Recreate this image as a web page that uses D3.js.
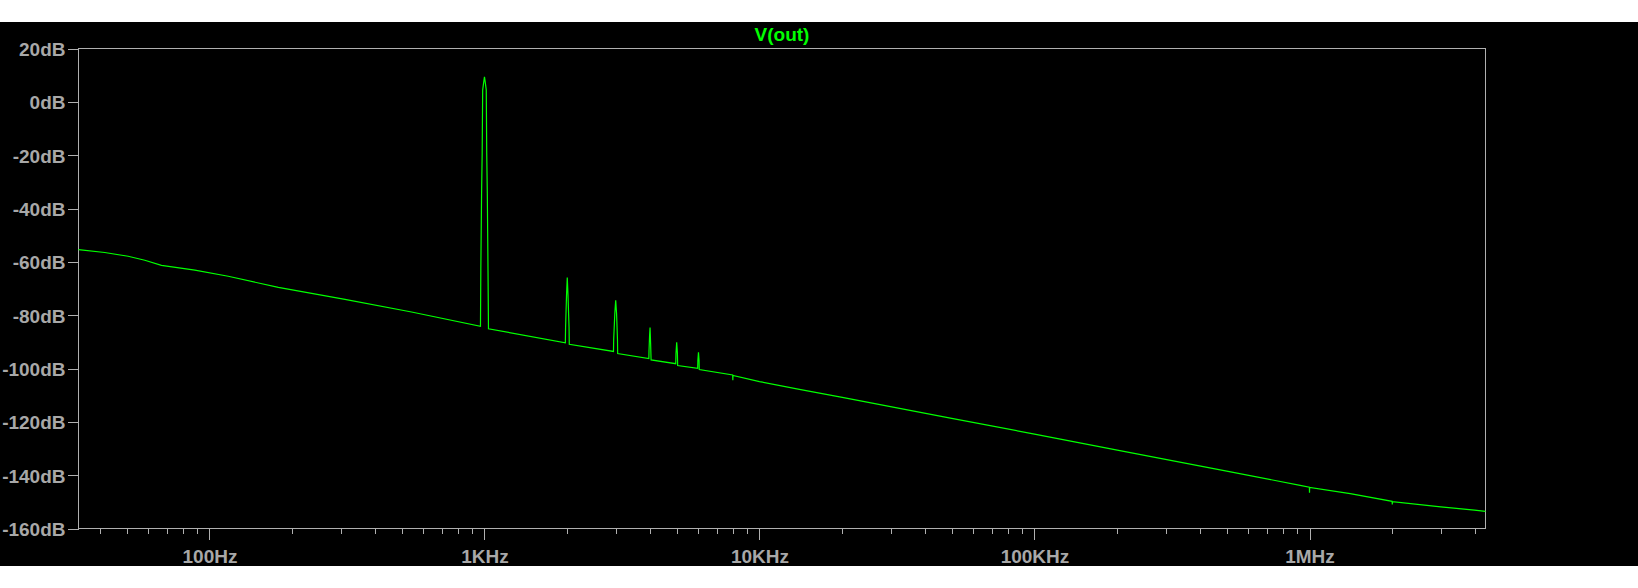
<!DOCTYPE html>
<html>
<head>
<meta charset="utf-8">
<script src="https://cdn.jsdelivr.net/npm/d3@7"></script>
<style>
  html, body { margin: 0; padding: 0; background: #ffffff; }
  svg { display: block; }
</style>
</head>
<body>
<script>
// ---- Data ----
const traceName = "V(out)";

// noise floor below the fundamental
const floorLowHz = [33.4, 41.6, 50.6, 58.2, 66.9, 88.5, 117, 178, 311, 543];
const floorLowDb = [-55.4, -56.5, -57.9, -59.4, -61.3, -63.1, -65.4, -69.6, -74.1, -78.8];

// fundamental (1 kHz) lobe
const fundHz = [967, 970, 976, 981, 985, 993, 1000, 1007, 1015, 1019, 1024, 1030, 1034];
const fundDb = [-84.2, -62.6, -34.4, -19.1, 4.4, 7.2, 9.4, 7.2, 4.4, -19.1, -34.4, -63.3, -85.1];

// harmonics
const h2Hz = [1968, 1972, 1988, 2000, 2012, 2030, 2034];
const h2Db = [-90.4, -84.6, -72.3, -65.9, -72.3, -84.6, -90.9];
const h3Hz = [2945, 2950, 2978, 3000, 3022, 3045, 3050];
const h3Db = [-93.6, -89.1, -79.4, -74.4, -79.4, -89.1, -94.4];
const h4Hz = [3960, 3965, 3985, 4000, 4020, 4035];
const h4Db = [-96.3, -93.5, -87.5, -84.6, -90.9, -96.8];
const h5Hz = [4960, 4970, 5000, 5030, 5040];
const h5Db = [-98.2, -94.4, -90.2, -94.4, -98.9];
const h6Hz = [5960, 5970, 6000, 6030, 6040];
const h6Db = [-99.9, -97.0, -93.9, -97.0, -100.4];

// noise floor above the harmonics (with small dips)
const floorHighHz = [7990, 8000, 8010, 10000, 13970, 20000, 50000, 100000, 200000, 500000, 924700,
                     999000, 1000000, 1001000, 1406000, 1997000, 2000000, 2003000, 3000000, 3980000, 4365000];
const floorHighDb = [-102.4, -104.4, -102.6, -104.9, -107.8, -110.8, -118.7, -124.6, -130.6, -138.5, -143.8,
                     -144.5, -146.6, -144.6, -146.9, -149.8, -151.0, -149.9, -151.9, -153.1, -153.6];

// axes
const xDomain = [33.4, 4365000];
const yDomain = [-160, 20];
const yTicks = [20, 0, -20, -40, -60, -80, -100, -120, -140, -160];
const yTickLabels = ["20dB", "0dB", "-20dB", "-40dB", "-60dB", "-80dB", "-100dB", "-120dB", "-140dB", "-160dB"];
const xMajorTicks = [100, 1000, 10000, 100000, 1000000];
const xTickLabels = ["100Hz", "1KHz", "10KHz", "100KHz", "1MHz"];
const decadeStarts = [10, 100, 1000, 10000, 100000, 1000000];
const minorMultiples = [2, 3, 4, 5, 6, 7, 8, 9];

// ---- Build series ----
function zip(fs, ds) { return fs.map((f, i) => ({ f: f, db: ds[i] })); }
const trace = [].concat(
  zip(floorLowHz, floorLowDb), zip(fundHz, fundDb),
  zip(h2Hz, h2Db), zip(h3Hz, h3Db), zip(h4Hz, h4Db), zip(h5Hz, h5Db), zip(h6Hz, h6Db),
  zip(floorHighHz, floorHighDb)
).sort((a, b) => a.f - b.f);

// ---- Layout ----
const W = 1638, H = 588;
const bandTop = 22, bandBottom = 566;
const pL = 78.5, pR = 1485.5, pT = 48.5, pB = 528.5;
const grey = "#a8a8a8", axisGrey = "#b0b0b0", green = "#00ff00";
const font = "'Liberation Sans', Arial, sans-serif";

const svg = d3.select("body").append("svg").attr("width", W).attr("height", H);
svg.append("rect").attr("x", 0).attr("y", 0).attr("width", W).attr("height", H).attr("fill", "#ffffff");
svg.append("rect").attr("x", 0).attr("y", bandTop).attr("width", W).attr("height", bandBottom - bandTop).attr("fill", "#000000");

const x = d3.scaleLog().domain(xDomain).range([pL, pR]);
const y = d3.scaleLinear().domain(yDomain).range([pB, pT]);

// frame
svg.append("rect").attr("x", pL).attr("y", pT).attr("width", pR - pL).attr("height", pB - pT)
  .attr("fill", "none").attr("stroke", axisGrey).attr("stroke-width", 1).attr("shape-rendering", "crispEdges");

// Y axis
const yAxis = d3.axisLeft(y).tickValues(yTicks).tickSize(11).tickPadding(2)
  .tickFormat((d, i) => yTickLabels[i]);
const gy = svg.append("g").attr("transform", `translate(${pL},0)`).call(yAxis);
gy.select(".domain").remove();
gy.selectAll("line").attr("stroke", axisGrey).attr("shape-rendering", "crispEdges");
gy.selectAll("text").attr("fill", grey).attr("font-family", font).attr("font-size", 19)
  .attr("font-weight", "bold").attr("dy", "0.36em");

// X axis: minor ticks (2..9 within each decade)
const minorTicks = [];
decadeStarts.forEach(d => minorMultiples.forEach(m => {
  const v = d * m;
  if (v >= xDomain[0] && v <= xDomain[1]) minorTicks.push(v);
}));
const xMinor = d3.axisBottom(x).tickValues(minorTicks).tickSize(5).tickFormat("");
const gxm = svg.append("g").attr("transform", `translate(0,${pB})`).call(xMinor);
gxm.select(".domain").remove();
gxm.selectAll("line").attr("stroke", axisGrey).attr("shape-rendering", "crispEdges");

const xMajor = d3.axisBottom(x).tickValues(xMajorTicks).tickSize(11).tickPadding(5)
  .tickFormat((d, i) => xTickLabels[i]);
const gx = svg.append("g").attr("transform", `translate(0,${pB})`).call(xMajor);
gx.select(".domain").remove();
gx.selectAll("line").attr("stroke", axisGrey).attr("shape-rendering", "crispEdges");
gx.selectAll("text").attr("fill", grey).attr("font-family", font).attr("font-size", 19)
  .attr("font-weight", "bold").attr("dy", "0.95em");

// title
svg.append("text").attr("x", (pL + pR) / 2).attr("y", 41).attr("text-anchor", "middle")
  .attr("fill", green).attr("font-family", font).attr("font-size", 19).attr("font-weight", "bold")
  .text(traceName);

// trace
const line = d3.line().x(d => x(d.f)).y(d => y(d.db));
svg.append("path").datum(trace).attr("d", line).attr("fill", "none")
  .attr("stroke", green).attr("stroke-width", 1.2);
</script>
</body>
</html>
